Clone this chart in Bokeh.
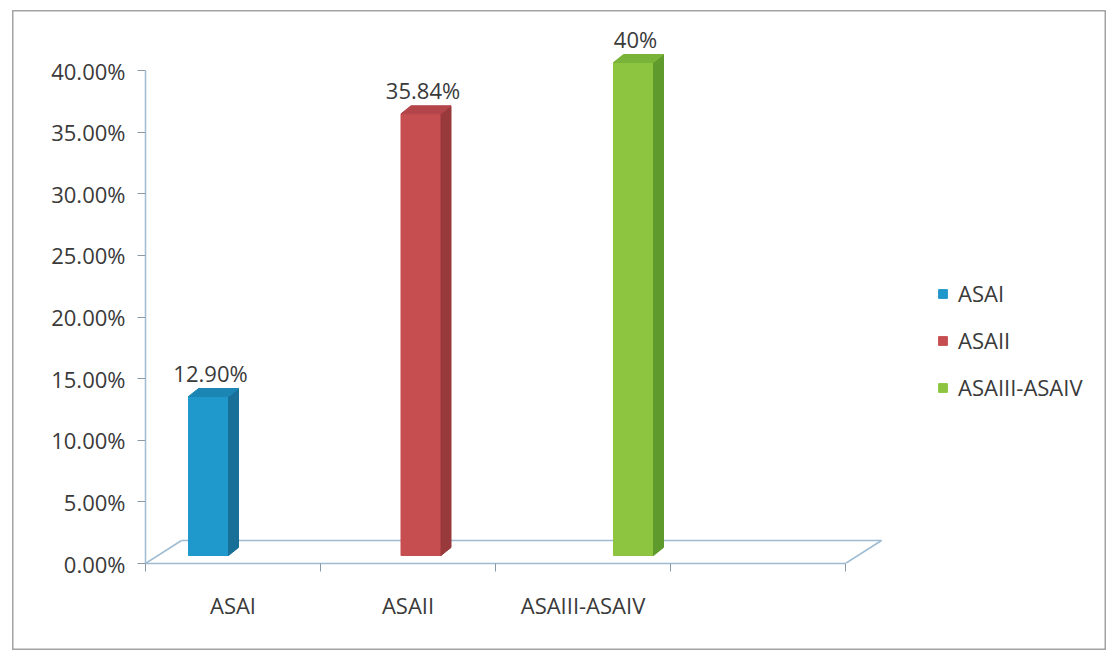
from bokeh.plotting import figure
from bokeh.models import (Range1d, FixedTicker, NumeralTickFormatter, Legend, LegendItem,
                          ColumnDataSource)
from bokeh.core.properties import value
from bokeh.embed import file_html
from bokeh.resources import INLINE

# ---- data ----
categories = ["ASAI", "ASAII", "ASAIII-ASAIV"]
shares = [0.129, 0.3584, 0.40]
share_labels = ["12.90%", "35.84%", "40%"]
y_ticks = [0.0, 0.05, 0.10, 0.15, 0.20, 0.25, 0.30, 0.35, 0.40]
n_slots = 4  # category slots along the floor

front_colors = ["#1f98cb", "#c64e51", "#8dc540"]
side_colors = ["#186f98", "#98393c", "#5f9a2d"]
top_colors = ["#1b86b4", "#b3454a", "#79b337"]

# ---- geometry of the pseudo-3D scene (data units) ----
PX_X = 175.0          # pixels per category slot
PX_Y = 1232.5         # pixels per unit share
BAR_START = 43 / PX_X
BAR_STEP = 212.5 / PX_X
BAR_W = 40 / PX_X
BAR_DX = 10 / PX_X
BAR_DY = 8 / PX_Y
BAR_BASE = 8 / PX_Y
FLOOR_DX = 36 / PX_X
FLOOR_DY = 23 / PX_Y

# the figure box is the bordered chart area, offset from the page corner
OFF_L, OFF_T = 12, 10
W, H = 1094, 640
ML, MR, MT, MB = 145 - OFF_L, 0, 0, 650 - 563

p = figure(width=W, height=H, output_backend="svg", toolbar_location=None,
           x_range=Range1d(0, (W - ML - MR) / PX_X),
           y_range=Range1d(0, (H - MT - MB) / PX_Y),
           min_border_left=ML, min_border_right=MR,
           min_border_top=MT, min_border_bottom=MB,
           margin=(OFF_T, 0, 0, OFF_L))
# transparent canvas so the box outline drawn by CSS shows through
p.styles = {"box-shadow": "inset 0 0 0 1.5px #a3a3a3"}
p.grid.visible = False
p.outline_line_color = None
p.background_fill_color = None
p.border_fill_color = None

axis_col = "#9dbbd2"
tick_col = "#8c9aa6"
text_col = "#3a3a3a"

# value axis
p.yaxis.ticker = FixedTicker(ticks=y_ticks)
p.yaxis.formatter = NumeralTickFormatter(format="0.00%")
p.yaxis.bounds = (0, y_ticks[-1])
p.yaxis.axis_line_color = axis_col
p.yaxis.axis_line_width = 1.5
p.yaxis.major_tick_line_color = tick_col
p.yaxis.major_tick_out = 8
p.yaxis.major_tick_in = 0
p.yaxis.minor_tick_line_color = None
p.yaxis.major_label_standoff = 12
p.yaxis.major_label_text_font = "Open Sans"
p.yaxis.major_label_text_font_size = "22px"
p.yaxis.major_label_text_color = text_col

# category axis (front edge of the floor)
centers = [i + 0.5 for i in range(len(categories))]
p.xaxis.ticker = FixedTicker(ticks=centers, minor_ticks=list(range(n_slots + 1)))
p.xaxis.major_label_overrides = {c: name for c, name in zip(centers, categories)}
p.xaxis.bounds = (0, n_slots)
p.xaxis.axis_line_color = axis_col
p.xaxis.axis_line_width = 1.5
p.xaxis.major_tick_line_color = None
p.xaxis.major_tick_out = 0
p.xaxis.minor_tick_line_color = tick_col
p.xaxis.minor_tick_out = 8
p.xaxis.minor_tick_in = 0
p.xaxis.major_label_standoff = 18
p.xaxis.major_label_text_font = "Open Sans"
p.xaxis.major_label_text_font_size = "22px"
p.xaxis.major_label_text_color = text_col

# floor outline: back edge and the two side edges
p.multi_line(xs=[[FLOOR_DX, n_slots + FLOOR_DX], [0, FLOOR_DX], [n_slots, n_slots + FLOOR_DX]],
             ys=[[FLOOR_DY, FLOOR_DY], [0, FLOOR_DY], [0, FLOOR_DY]],
             line_color=axis_col, line_width=1.5)

# bars: front face, side face and top face
lefts = [BAR_START + i * BAR_STEP for i in range(len(shares))]
rights = [l + BAR_W for l in lefts]
tops = [s + BAR_BASE for s in shares]

front = ColumnDataSource(dict(left=lefts, right=rights, top=tops,
                              bottom=[BAR_BASE] * len(shares), color=front_colors,
                              label=categories))
bars = p.quad(left="left", right="right", top="top", bottom="bottom",
              fill_color="color", line_color="color", source=front)

p.patches(xs=[[r, r + BAR_DX, r + BAR_DX, r] for r in rights],
          ys=[[BAR_BASE, BAR_BASE + BAR_DY, t + BAR_DY, t] for t in tops],
          fill_color=side_colors, line_color=side_colors)
p.patches(xs=[[l, l + BAR_DX, r + BAR_DX, r] for l, r in zip(lefts, rights)],
          ys=[[t, t + BAR_DY, t + BAR_DY, t] for t in tops],
          fill_color=top_colors, line_color=top_colors)

# value labels above the bars
p.text(x=[l + BAR_W / 2 for l in lefts], y=tops, text=share_labels,
       text_align="center", text_baseline="bottom", y_offset=-9, x_offset=2,
       text_font=value("Open Sans"), text_font_size="22px", text_color=text_col)

# legend on the right
legend = Legend(items=[LegendItem(label=name, renderers=[bars], index=i)
                       for i, name in enumerate(categories)],
                location=(792, 161), orientation="vertical",
                glyph_width=11, glyph_height=11, label_height=20, spacing=17,
                padding=0, margin=0, border_line_color=None,
                background_fill_alpha=0, label_standoff=10,
                label_text_font="Open Sans", label_text_font_size="22px",
                label_text_color=text_col)
p.add_layout(legend, "center")

open("out.html", "w").write(file_html(p, INLINE))
